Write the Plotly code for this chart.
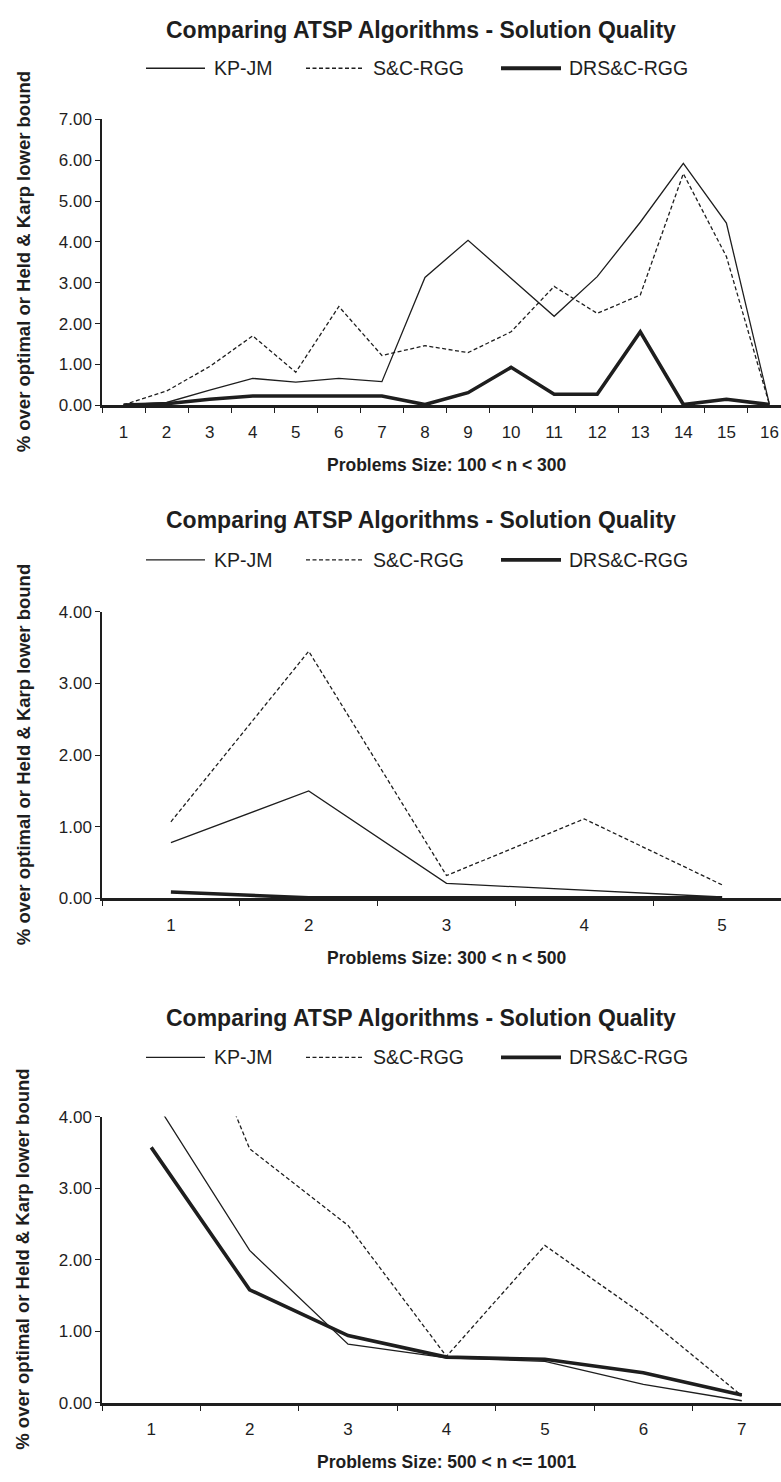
import plotly.graph_objects as go

# ---------------- data ----------------
series_names = ["KP-JM", "S&C-RGG", "DRS&C-RGG"]

cats_1 = [str(i) for i in range(1, 17)]
kp_1 = [0.01, 0.07, 0.37, 0.66, 0.57, 0.66, 0.58, 3.13, 4.04, 3.11, 2.18, 3.15, 4.48, 5.92, 4.46, 0.02]
sc_1 = [0.01, 0.35, 0.95, 1.70, 0.81, 2.42, 1.22, 1.46, 1.29, 1.80, 2.91, 2.25, 2.70, 5.67, 3.64, 0.02]
drs_1 = [0.01, 0.04, 0.15, 0.23, 0.23, 0.23, 0.23, 0.02, 0.31, 0.93, 0.27, 0.27, 1.80, 0.02, 0.15, 0.02]

cats_2 = [str(i) for i in range(1, 6)]
kp_2 = [0.78, 1.50, 0.21, 0.11, 0.02]
sc_2 = [1.07, 3.45, 0.32, 1.11, 0.19]
drs_2 = [0.09, 0.01, 0.01, 0.01, 0.01]

cats_3 = [str(i) for i in range(1, 8)]
kp_3 = [4.30, 2.13, 0.82, 0.63, 0.58, 0.26, 0.03]
sc_3 = [6.90, 3.55, 2.48, 0.65, 2.20, 1.23, 0.10]
drs_3 = [3.57, 1.58, 0.94, 0.64, 0.61, 0.42, 0.11]

chart_title = "Comparing ATSP Algorithms - Solution Quality"
y_title = "% over optimal or Held & Karp lower bound"
x_titles = ["Problems Size: 100 < n < 300", "Problems Size: 300 < n < 500", "Problems Size: 500 < n <= 1001"]
y_max = [7, 4, 4]

# ---------------- layout geometry ----------------
W, H = 781, 1482
L = 102
PW = W - L           # visible plot width
FULL_PW = 689        # full (clipped) plot width of the original
ink = "#1e1e1e"
font_family = "Liberation Sans, Arial, sans-serif"

# pixel rows: (top of plot, bottom of plot)
panels_px = [(111.7, 401.5), (610.7, 901.0), (1122.0, 1412.0)]
title_y_px = [21, 518, 1022]
legend_y_px = [60, 558, 1062]

def px_x(px):
    return (px - L) / PW

def px_y(py):
    return (H - py) / H

styles = [
    dict(width=1.3, dash="solid"),
    dict(width=1.3, dash="4px,2.5px"),
    dict(width=3.6, dash="solid"),
]

fig = go.Figure()

datasets = [
    (cats_1, [kp_1, sc_1, drs_1]),
    (cats_2, [kp_2, sc_2, drs_2]),
    (cats_3, [kp_3, sc_3, drs_3]),
]

annotations = []
shapes = []

for i, (cats, vals) in enumerate(datasets):
    k = "" if i == 0 else str(i + 1)
    xa, ya = "x" + k, "y" + k
    for name, v, st in zip(series_names, vals, styles):
        fig.add_trace(go.Scatter(
            x=cats, y=v, name=name, mode="lines",
            line=dict(color=ink, width=st["width"], dash=st["dash"]),
            xaxis=xa, yaxis=ya, showlegend=False,
        ))
    n = len(cats)
    top, bot = panels_px[i]
    dom = [px_y(bot), px_y(top)]
    fig.update_layout(**{
        "xaxis" + k: dict(
            domain=[0, 1], anchor=ya, type="category",
            range=[-0.5, -0.5 + PW / (FULL_PW / n)],
            showline=True, linecolor=ink, linewidth=2.6,
            ticks="outside", tickson="boundaries", ticklen=5, tickwidth=1.3, tickcolor=ink,
            tickfont=dict(size=17, color=ink, family=font_family),
            ticklabelstandoff=9,
            showgrid=False, zeroline=False, fixedrange=True,
        ),
        "yaxis" + k: dict(
            domain=dom, anchor=xa, range=[0, y_max[i]],
            tick0=0, dtick=1, tickformat=".2f",
            showline=True, linecolor=ink, linewidth=1.5,
            ticks="outside", ticklen=5, tickwidth=1.3, tickcolor=ink,
            tickfont=dict(size=17, color=ink, family=font_family),
            showgrid=False, zeroline=False, fixedrange=True,
        ),
    })

    # chart title
    annotations.append(dict(
        text="<b>" + chart_title + "</b>", x=px_x(421), y=px_y(title_y_px[i]),
        xref="paper", yref="paper", xanchor="center", yanchor="middle", showarrow=False,
        font=dict(size=23, color=ink, family=font_family),
    ))
    # legend
    leg_line_x = [(146, 205), (306, 363), (501, 561)]
    leg_text_x = [212, 371, 567]
    ly = px_y(legend_y_px[i])
    for j, name in enumerate(series_names):
        x0, x1 = leg_line_x[j]
        shapes.append(dict(
            type="line", xref="paper", yref="paper",
            x0=px_x(x0), x1=px_x(x1), y0=ly, y1=ly,
            line=dict(color=ink, width=styles[j]["width"] if j != 2 else 3.8, dash=styles[j]["dash"]),
        ))
        annotations.append(dict(
            text=name, x=px_x(leg_text_x[j]), y=ly, xref="paper", yref="paper",
            xanchor="left", yanchor="middle", showarrow=False,
            font=dict(size=19.5, color=ink, family=font_family),
        ))
    # y title
    annotations.append(dict(
        text="<b>" + y_title + "</b>", x=px_x(23), y=px_y((top + bot) / 2),
        xref="paper", yref="paper", xanchor="center", yanchor="middle",
        textangle=-90, showarrow=False,
        font=dict(size=18.5, color=ink, family=font_family),
    ))
    # x title
    annotations.append(dict(
        text="<b>" + x_titles[i] + "</b>", x=px_x(447), y=px_y(bot + 60),
        xref="paper", yref="paper", xanchor="center", yanchor="middle", showarrow=False,
        font=dict(size=17.5, color=ink, family=font_family),
    ))

fig.update_layout(
    width=W, height=H,
    margin=dict(l=L, r=0, t=0, b=0, pad=0),
    paper_bgcolor="white", plot_bgcolor="white",
    annotations=annotations, shapes=shapes,
    showlegend=False,
)

fig.write_html(
    "out.html",
    config={"displayModeBar": False},
    post_script="document.body.style.margin='0';document.body.style.overflow='hidden';",
)
